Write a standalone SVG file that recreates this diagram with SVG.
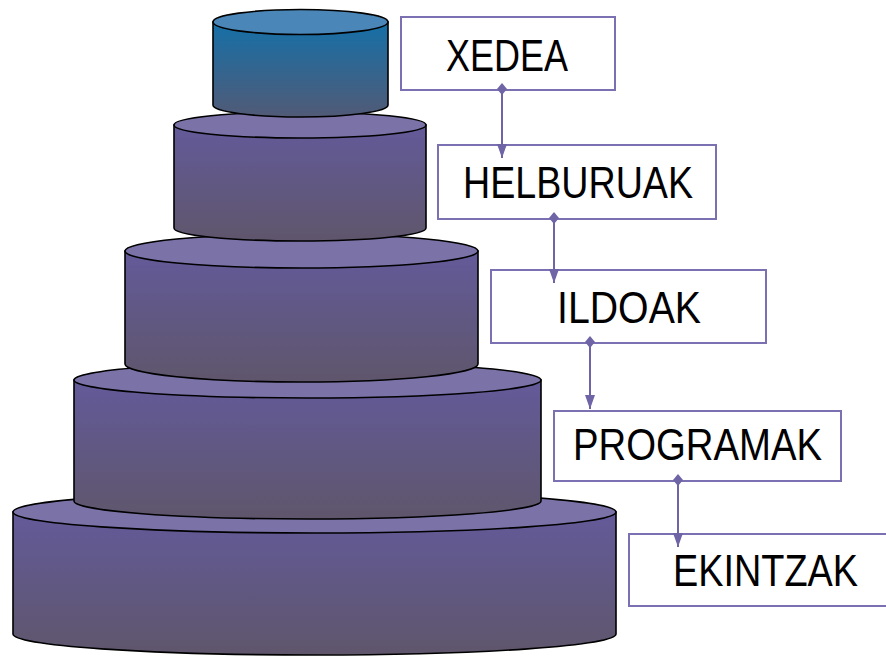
<svg xmlns="http://www.w3.org/2000/svg" width="886" height="656" viewBox="0 0 886 656">
<defs>
<linearGradient id="gBlue" x1="0" y1="0" x2="0" y2="1"><stop offset="0" stop-color="#1570a8"/><stop offset="1" stop-color="#515a76"/></linearGradient>
<linearGradient id="gPurple" x1="0" y1="0" x2="0" y2="1"><stop offset="0" stop-color="#635a9a"/><stop offset="1" stop-color="#5f566c"/></linearGradient>
<marker id="arr" viewBox="0 0 14 10" refX="14" refY="5" markerWidth="14" markerHeight="10" markerUnits="userSpaceOnUse" orient="auto"><path d="M0,0 L14,5 L0,10 Z" fill="#6e64a6"/></marker>
<marker id="dia" viewBox="0 0 12 10" refX="6" refY="5" markerWidth="12" markerHeight="10" markerUnits="userSpaceOnUse" orient="auto"><path d="M0,5 L6,0 L12,5 L6,10 Z" fill="#6e64a6"/></marker>
</defs>
<style>
.body{stroke:#000;stroke-width:1.6}
.topP{fill:#7b72a8;stroke:#000;stroke-width:1.6}
.topB{fill:#4a87b8;stroke:#000;stroke-width:1.6}
.box{fill:#fff;stroke:#7a70b2;stroke-width:2}
.lbl{font-family:"Liberation Sans",Arial,sans-serif;font-size:45px;fill:#000;text-anchor:start}
.con{stroke:#6e64a6;stroke-width:2;fill:none;marker-start:url(#dia);marker-end:url(#arr)}
</style>
<g id="tier5">
<path class="body" fill="url(#gPurple)" d="M13,512 L13,634 A301.5,21 0 0 0 616,634 L616,512 Z"/>
<ellipse class="topP" cx="314.5" cy="512" rx="301.5" ry="21"/>
</g>
<g id="tier4">
<path class="body" fill="url(#gPurple)" d="M74,380 L74,501 A233.5,18 0 0 0 541,501 L541,380 Z"/>
<ellipse class="topP" cx="307.5" cy="380" rx="233.5" ry="18"/>
</g>
<g id="tier3">
<path class="body" fill="url(#gPurple)" d="M125,251 L125,364 A176.5,18 0 0 0 478,364 L478,251 Z"/>
<ellipse class="topP" cx="301.5" cy="251" rx="176.5" ry="17"/>
</g>
<g id="tier2">
<path class="body" fill="url(#gPurple)" d="M174,125 L174,228 A126,13 0 0 0 426,228 L426,125 Z"/>
<ellipse class="topP" cx="300" cy="125" rx="126" ry="13"/>
</g>
<g id="tier1">
<path class="body" fill="url(#gBlue)" d="M213,22 L213,105 A87.5,12 0 0 0 388,105 L388,22 Z"/>
<ellipse class="topB" cx="300.5" cy="22" rx="87.5" ry="12.5"/>
</g>
<g id="xedea">
<rect class="box" x="401" y="17" width="214" height="73"/>
<text class="lbl" x="446" y="71" textLength="122" lengthAdjust="spacingAndGlyphs">XEDEA</text>
</g>
<g id="helburuak">
<rect class="box" x="438" y="145" width="278" height="74"/>
<text class="lbl" x="463" y="198" textLength="230" lengthAdjust="spacingAndGlyphs">HELBURUAK</text>
</g>
<g id="ildoak">
<rect class="box" x="491" y="270" width="275" height="73"/>
<text class="lbl" x="557" y="323" textLength="144" lengthAdjust="spacingAndGlyphs">ILDOAK</text>
</g>
<g id="programak">
<rect class="box" x="554" y="411" width="287" height="70"/>
<text class="lbl" x="573" y="460" textLength="249" lengthAdjust="spacingAndGlyphs">PROGRAMAK</text>
</g>
<g id="ekintzak">
<rect class="box" x="629" y="534" width="270" height="72"/>
<text class="lbl" x="673" y="586" textLength="185" lengthAdjust="spacingAndGlyphs">EKINTZAK</text>
</g>
<g id="connectors">
<path class="con" d="M502,89 L502,158"/>
<path class="con" d="M554,218 L554,283"/>
<path class="con" d="M590,342 L590,409"/>
<path class="con" d="M678,480 L678,547"/>
</g>
</svg>
